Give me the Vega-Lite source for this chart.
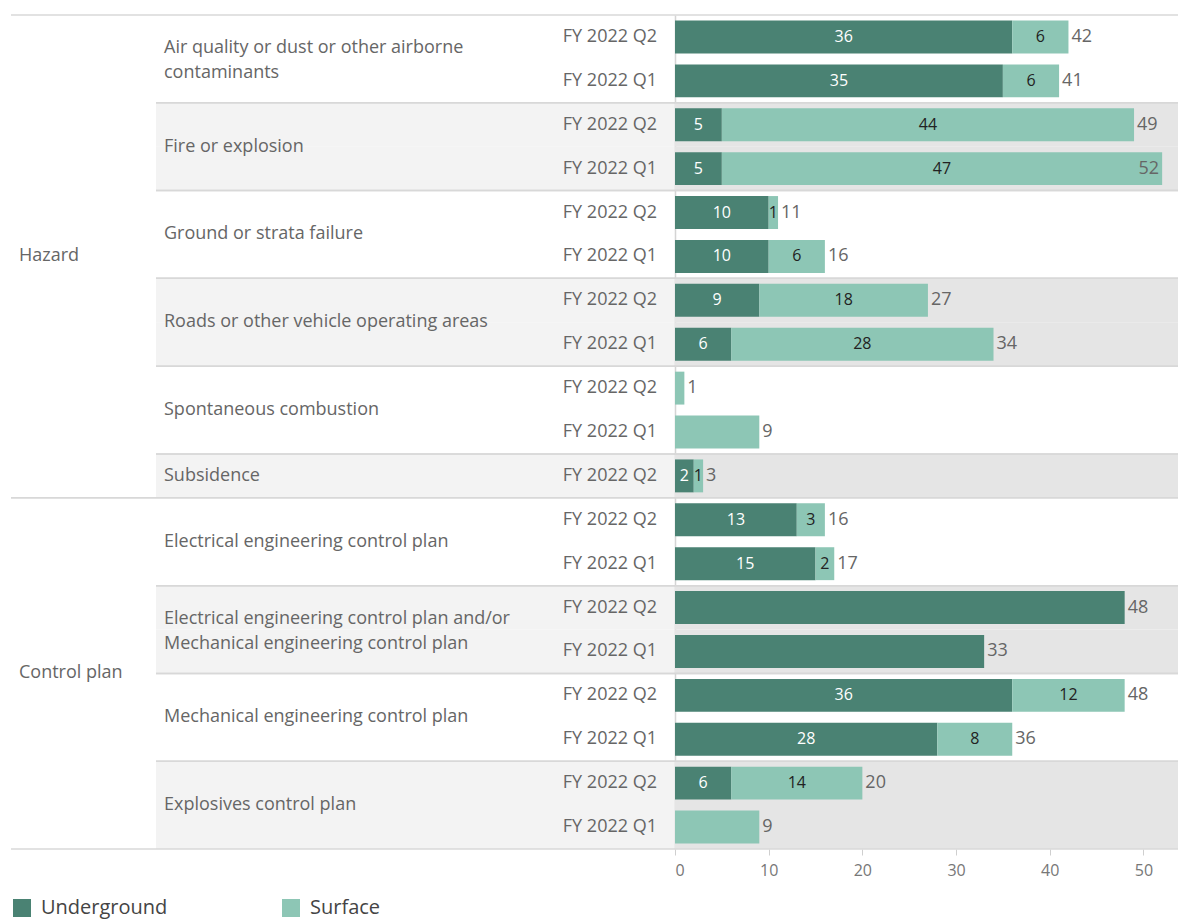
{
  "$schema": "https://vega.github.io/schema/vega-lite/v6.json",
  "padding": {"left": 10, "top": 14, "right": 0, "bottom": 0},
  "background": "white",
  "spacing": 0,
  "bounds": "flush",
  "config": {
    "font": "Open Sans",
    "view": {"stroke": null},
    "axisX": {"grid": false, "domain": false, "tickColor": "#cfcfcf", "tickSize": 6, "labelColor": "#777777", "labelFontSize": 16, "labelPadding": 7, "labelFont": "Open Sans"},
    "axisY": {"labels": false, "ticks": false, "grid": false, "domainColor": "#d4d4d4", "domainWidth": 1.5, "zindex": 1},
    "legend": {"orient": "bottom", "direction": "horizontal", "symbolType": "square", "symbolSize": 324, "symbolStrokeWidth": 0, "labelFontSize": 20, "labelColor": "#444444", "labelOffset": 9, "columnPadding": 113, "offset": 19, "padding": 1, "labelFont": "Open Sans"}
  },
  "resolve": {"scale": {"y": "shared"}},
  "datasets": {
    "rows": [
      {"group": "Hazard", "category": "Air quality or dust or other airborne contaminants", "quarter": "FY 2022 Q2", "Underground": 36, "Surface": 6},
      {"group": "Hazard", "category": "Air quality or dust or other airborne contaminants", "quarter": "FY 2022 Q1", "Underground": 35, "Surface": 6},
      {"group": "Hazard", "category": "Fire or explosion", "quarter": "FY 2022 Q2", "Underground": 5, "Surface": 44},
      {"group": "Hazard", "category": "Fire or explosion", "quarter": "FY 2022 Q1", "Underground": 5, "Surface": 47},
      {"group": "Hazard", "category": "Ground or strata failure", "quarter": "FY 2022 Q2", "Underground": 10, "Surface": 1},
      {"group": "Hazard", "category": "Ground or strata failure", "quarter": "FY 2022 Q1", "Underground": 10, "Surface": 6},
      {"group": "Hazard", "category": "Roads or other vehicle operating areas", "quarter": "FY 2022 Q2", "Underground": 9, "Surface": 18},
      {"group": "Hazard", "category": "Roads or other vehicle operating areas", "quarter": "FY 2022 Q1", "Underground": 6, "Surface": 28},
      {"group": "Hazard", "category": "Spontaneous combustion", "quarter": "FY 2022 Q2", "Underground": null, "Surface": 1},
      {"group": "Hazard", "category": "Spontaneous combustion", "quarter": "FY 2022 Q1", "Underground": null, "Surface": 9},
      {"group": "Hazard", "category": "Subsidence", "quarter": "FY 2022 Q2", "Underground": 2, "Surface": 1},
      {"group": "Control plan", "category": "Electrical engineering control plan", "quarter": "FY 2022 Q2", "Underground": 13, "Surface": 3},
      {"group": "Control plan", "category": "Electrical engineering control plan", "quarter": "FY 2022 Q1", "Underground": 15, "Surface": 2},
      {"group": "Control plan", "category": "Electrical engineering control plan and/or Mechanical engineering control plan", "quarter": "FY 2022 Q2", "Underground": 48, "Surface": null},
      {"group": "Control plan", "category": "Electrical engineering control plan and/or Mechanical engineering control plan", "quarter": "FY 2022 Q1", "Underground": 33, "Surface": null},
      {"group": "Control plan", "category": "Mechanical engineering control plan", "quarter": "FY 2022 Q2", "Underground": 36, "Surface": 12},
      {"group": "Control plan", "category": "Mechanical engineering control plan", "quarter": "FY 2022 Q1", "Underground": 28, "Surface": 8},
      {"group": "Control plan", "category": "Explosives control plan", "quarter": "FY 2022 Q2", "Underground": 6, "Surface": 14},
      {"group": "Control plan", "category": "Explosives control plan", "quarter": "FY 2022 Q1", "Underground": null, "Surface": 9}
    ]
  },
  "hconcat": [
    {
      "width": 145,
      "height": 834,
      "data": {"name": "rows"},
      "transform": [
        {"window": [{"op": "row_number", "as": "idx"}]},
        {"joinaggregate": [{"op": "min", "field": "idx", "as": "gStart"}, {"op": "max", "field": "idx", "as": "gEnd"}, {"op": "count", "as": "gCount"}], "groupby": ["group"]}
      ],
      "layer": [
        {
          "transform": [{"filter": "datum.idx == datum.gStart"}],
          "mark": {"type": "rule", "color": "#d8d8d8", "strokeWidth": 1.5},
          "encoding": {"y": {"field": "idx", "type": "ordinal", "axis": null, "title": null, "bandPosition": 0, "scale": {"type": "band", "paddingInner": 0, "paddingOuter": 0}}}
        },
        {
          "transform": [{"filter": "datum.idx == datum.gEnd"}],
          "mark": {"type": "rule", "color": "#d8d8d8", "strokeWidth": 1.5},
          "encoding": {"y": {"field": "idx", "type": "ordinal", "axis": null, "title": null, "bandPosition": 1, "scale": {"type": "band", "paddingInner": 0, "paddingOuter": 0}}}
        },
        {
          "transform": [{"filter": "datum.gCount % 2 == 1 && (datum.idx - datum.gStart) * 2 == datum.gCount - 1"}],
          "mark": {"type": "text", "align": "left", "baseline": "middle", "fontSize": 18, "color": "#666666"},
          "encoding": {
            "x": {"value": 8},
            "y": {"field": "idx", "type": "ordinal", "axis": null, "title": null, "bandPosition": 0.5, "scale": {"type": "band", "paddingInner": 0, "paddingOuter": 0}},
            "text": {"field": "group"}
          }
        },
        {
          "transform": [{"filter": "datum.gCount % 2 == 0 && (datum.idx - datum.gStart) * 2 == datum.gCount"}],
          "mark": {"type": "text", "align": "left", "baseline": "middle", "fontSize": 18, "color": "#666666"},
          "encoding": {
            "x": {"value": 8},
            "y": {"field": "idx", "type": "ordinal", "axis": null, "title": null, "bandPosition": 0, "scale": {"type": "band", "paddingInner": 0, "paddingOuter": 0}},
            "text": {"field": "group"}
          }
        }
      ]
    },
    {
      "width": 519,
      "height": 834,
      "data": {"name": "rows"},
      "transform": [
        {"window": [{"op": "row_number", "as": "idx"}]},
        {"joinaggregate": [{"op": "min", "field": "idx", "as": "catStart"}, {"op": "max", "field": "idx", "as": "catEnd"}, {"op": "count", "as": "catCount"}], "groupby": ["category"]},
        {"window": [{"op": "dense_rank", "as": "catRank"}], "sort": [{"field": "catStart", "order": "ascending"}]}
      ],
      "layer": [
        {
          "transform": [{"filter": "datum.catRank % 2 == 0"}],
          "mark": {"type": "rect", "color": "#f3f3f3"},
          "encoding": {"y": {"field": "idx", "type": "ordinal", "axis": null, "title": null, "scale": {"type": "band", "paddingInner": 0, "paddingOuter": 0}}}
        },
        {
          "transform": [{"filter": "datum.idx == datum.catStart"}],
          "mark": {"type": "rule", "color": "#d8d8d8", "strokeWidth": 1.5},
          "encoding": {"y": {"field": "idx", "type": "ordinal", "axis": null, "title": null, "bandPosition": 0, "scale": {"type": "band", "paddingInner": 0, "paddingOuter": 0}}}
        },
        {
          "transform": [{"filter": "datum.idx == datum.catEnd"}],
          "mark": {"type": "rule", "color": "#d8d8d8", "strokeWidth": 1.5},
          "encoding": {"y": {"field": "idx", "type": "ordinal", "axis": null, "title": null, "bandPosition": 1, "scale": {"type": "band", "paddingInner": 0, "paddingOuter": 0}}}
        },
        {
          "mark": {"type": "text", "align": "right", "baseline": "middle", "fontSize": 18, "color": "#666666"},
          "encoding": {
            "x": {"value": 501},
            "y": {"field": "idx", "type": "ordinal", "axis": null, "title": null, "scale": {"type": "band", "paddingInner": 0, "paddingOuter": 0}},
            "text": {"field": "quarter"}
          }
        },
        {
          "transform": [{"filter": "datum.catCount % 2 == 1 && (datum.idx - datum.catStart) * 2 == datum.catCount - 1"}],
          "mark": {"type": "text", "align": "left", "baseline": "middle", "fontSize": 18, "color": "#666666"},
          "encoding": {
            "x": {"value": 8},
            "y": {"field": "idx", "type": "ordinal", "axis": null, "title": null, "bandPosition": 0.5, "scale": {"type": "band", "paddingInner": 0, "paddingOuter": 0}},
            "text": {"field": "category"}
          }
        },
        {
          "transform": [{"filter": "datum.catCount % 2 == 0 && (datum.idx - datum.catStart) * 2 == datum.catCount && !test(regexp('^.{36}[^ ]* '), datum.category)"}],
          "mark": {"type": "text", "align": "left", "baseline": "middle", "fontSize": 18, "color": "#666666"},
          "encoding": {
            "x": {"value": 8},
            "y": {"field": "idx", "type": "ordinal", "axis": null, "title": null, "bandPosition": 0, "scale": {"type": "band", "paddingInner": 0, "paddingOuter": 0}},
            "text": {"field": "category"}
          }
        },
        {
          "transform": [{"filter": "datum.catCount % 2 == 0 && (datum.idx - datum.catStart) * 2 == datum.catCount && test(regexp('^.{36}[^ ]* '), datum.category)"}],
          "mark": {"type": "text", "align": "left", "baseline": "middle", "fontSize": 18, "color": "#666666", "lineHeight": 25, "dy": -10.5, "lineBreak": {"expr": "regexp('(?<=^.{36}[^ ]*) ')"}},
          "encoding": {
            "x": {"value": 8},
            "y": {"field": "idx", "type": "ordinal", "axis": null, "title": null, "bandPosition": 0, "scale": {"type": "band", "paddingInner": 0, "paddingOuter": 0}},
            "text": {"field": "category"}
          }
        }
      ]
    },
    {
      "width": 504,
      "height": 834,
      "data": {"name": "rows"},
      "transform": [
        {"window": [{"op": "row_number", "as": "idx"}]},
        {"joinaggregate": [{"op": "min", "field": "idx", "as": "catStart"}, {"op": "max", "field": "idx", "as": "catEnd"}], "groupby": ["category"]},
        {"window": [{"op": "dense_rank", "as": "catRank"}], "sort": [{"field": "catStart", "order": "ascending"}]}
      ],
      "layer": [
        {
          "transform": [{"filter": "datum.catRank % 2 == 0"}],
          "mark": {"type": "rect", "color": "#e5e5e5"},
          "encoding": {"y": {"field": "idx", "type": "ordinal", "title": null, "scale": {"type": "band", "paddingInner": 0, "paddingOuter": 0}}}
        },
        {
          "transform": [{"filter": "datum.idx == datum.catStart"}],
          "mark": {"type": "rule", "color": "#d8d8d8", "strokeWidth": 1.5},
          "encoding": {"y": {"field": "idx", "type": "ordinal", "title": null, "bandPosition": 0, "scale": {"type": "band", "paddingInner": 0, "paddingOuter": 0}}}
        },
        {
          "transform": [{"filter": "datum.idx == datum.catEnd"}],
          "mark": {"type": "rule", "color": "#d8d8d8", "strokeWidth": 1.5},
          "encoding": {"y": {"field": "idx", "type": "ordinal", "title": null, "bandPosition": 1, "scale": {"type": "band", "paddingInner": 0, "paddingOuter": 0}}}
        },
        {
          "transform": [
            {"fold": ["Underground", "Surface"], "as": ["type", "value"]},
            {"filter": "datum.value > 0"},
            {"stack": "value", "groupby": ["idx"], "sort": [{"field": "type", "order": "descending"}], "as": ["v0", "v1"]}
          ],
          "mark": {"type": "bar", "height": {"band": 0.75}},
          "encoding": {
            "y": {"field": "idx", "type": "ordinal", "title": null, "scale": {"type": "band", "paddingInner": 0, "paddingOuter": 0}},
            "x": {"field": "v0", "type": "quantitative", "title": null, "scale": {"domain": [0, 53.8], "nice": false, "zero": true}, "axis": {"values": [0, 10, 20, 30, 40, 50]}},
            "x2": {"field": "v1"},
            "color": {"field": "type", "type": "nominal", "title": null, "sort": ["Underground", "Surface"], "scale": {"domain": ["Underground", "Surface"], "range": ["#4a8273", "#8dc6b5"]}}
          }
        },
        {
          "transform": [
            {"filter": "datum.Underground > 0 && datum.Surface > 0"},
            {"fold": ["Underground", "Surface"], "as": ["type", "value"]},
            {"stack": "value", "groupby": ["idx"], "sort": [{"field": "type", "order": "descending"}], "as": ["v0", "v1"]},
            {"fold": ["v0", "v1"], "as": ["edge", "pos"]},
            {"aggregate": [{"op": "mean", "field": "pos", "as": "mid"}], "groupby": ["idx", "type", "value"]}
          ],
          "mark": {"type": "text", "align": "center", "baseline": "middle", "fontSize": 16},
          "encoding": {
            "y": {"field": "idx", "type": "ordinal", "title": null, "scale": {"type": "band", "paddingInner": 0, "paddingOuter": 0}},
            "x": {"field": "mid", "type": "quantitative", "title": null},
            "text": {"field": "value"},
            "color": {"condition": {"test": "datum.type == 'Underground'", "value": "#ffffff"}, "value": "#222222"}
          }
        },
        {
          "transform": [
            {"fold": ["Underground", "Surface"], "as": ["type", "value"]},
            {"aggregate": [{"op": "sum", "field": "value", "as": "total"}], "groupby": ["idx"]},
            {"filter": "datum.total <= 51"}
          ],
          "mark": {"type": "text", "align": "left", "baseline": "middle", "fontSize": 18, "dx": 3, "color": "#666666"},
          "encoding": {
            "y": {"field": "idx", "type": "ordinal", "title": null, "scale": {"type": "band", "paddingInner": 0, "paddingOuter": 0}},
            "x": {"field": "total", "type": "quantitative", "title": null},
            "text": {"field": "total"}
          }
        },
        {
          "transform": [
            {"fold": ["Underground", "Surface"], "as": ["type", "value"]},
            {"aggregate": [{"op": "sum", "field": "value", "as": "total"}], "groupby": ["idx"]},
            {"filter": "datum.total > 51"}
          ],
          "mark": {"type": "text", "align": "right", "baseline": "middle", "fontSize": 18, "dx": -3, "color": "#666666"},
          "encoding": {
            "y": {"field": "idx", "type": "ordinal", "title": null, "scale": {"type": "band", "paddingInner": 0, "paddingOuter": 0}},
            "x": {"field": "total", "type": "quantitative", "title": null},
            "text": {"field": "total"}
          }
        }
      ]
    }
  ]
}
